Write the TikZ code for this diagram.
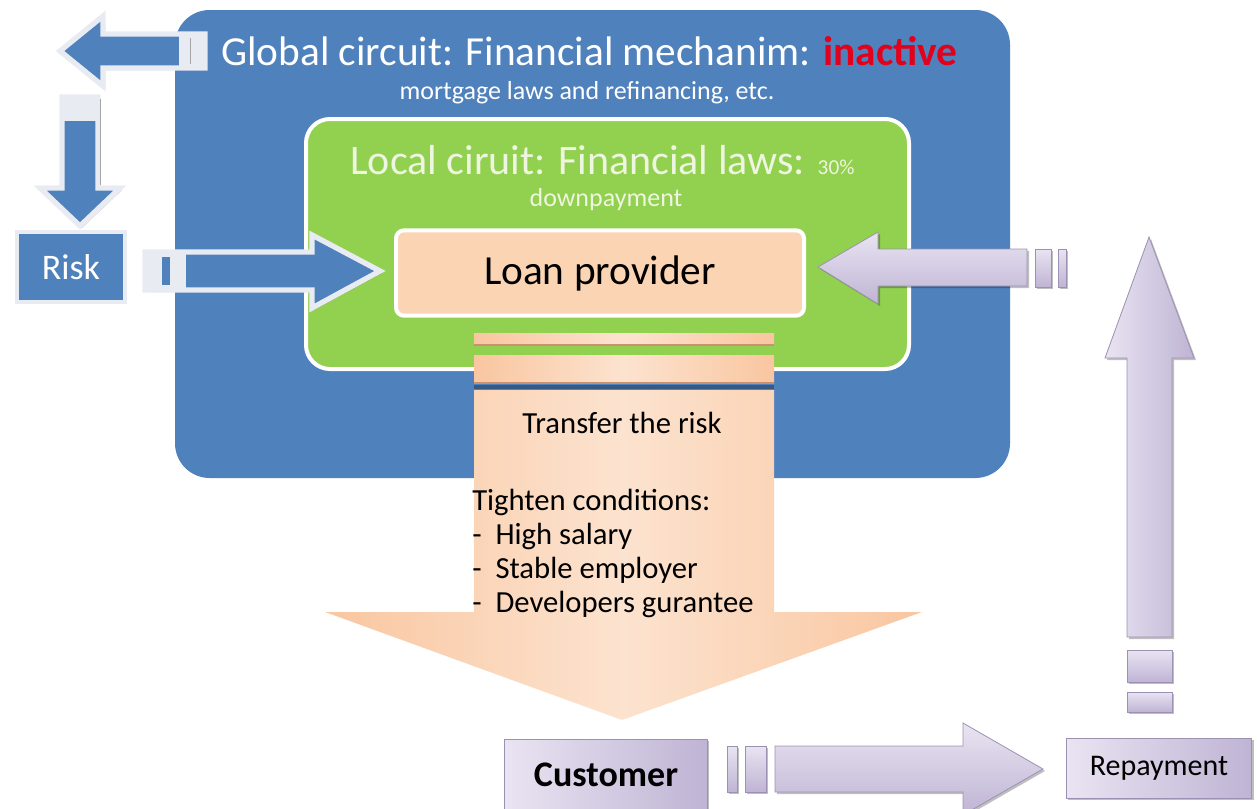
\documentclass[tikz,border=0pt]{standalone}
\usepackage{fontspec}
\setmainfont{Carlito}
\usetikzlibrary{positioning}

\definecolor{officeblue}{HTML}{4F81BD}
\definecolor{lawgreen}{HTML}{92D050}
\definecolor{greentext}{HTML}{EEF5E0}
\definecolor{inactred}{HTML}{E3001B}
\definecolor{peach}{HTML}{FBD4B4}
\definecolor{peachdark}{HTML}{F9C6A0}
\definecolor{peachlight}{HTML}{FCE3CF}
\definecolor{peachedge}{HTML}{C99170}
\definecolor{lavlight}{HTML}{E9E4F2}
\definecolor{lavdark}{HTML}{BFB4D4}
\definecolor{lavedge}{HTML}{9C91B2}
\definecolor{tailgray}{HTML}{E8ECF2}

\tikzset{
  softshadow/.style={preaction={fill=black, opacity=0.25, transform canvas={xshift=1.5pt, yshift=-1.5pt}}},
  bluearrow/.style={fill=officeblue, draw=tailgray, line width=4pt, line join=miter, softshadow},
  lavarrow/.style={shading=axis, top color=lavlight, bottom color=lavdark, draw=lavedge, line width=0.6pt, softshadow},
  lavbox/.style={shading=axis, left color=lavlight, right color=lavdark, draw=lavedge, line width=0.6pt, softshadow, inner sep=0},
  peacharrow/.style={shading=axis, left color=peachdark, right color=peachdark, middle color=peachlight, draw=none},
  boxfont/.style={font=\fontsize{#1}{#1}\selectfont}
}

\begin{document}
\begin{tikzpicture}[x=0.75pt,y=0.75pt,yscale=-1,xscale=1]
\useasboundingbox (0,0) rectangle (1257,808);

%Rounded Rect: global circuit
\draw[fill=officeblue, draw=none, rounded corners=26pt] (175,10) rectangle (1010,478);
\node[anchor=base west, text=white, boxfont=31, inner sep=0] (glob) at (221,65) {Global circuit: Financial mechanim: {\color{inactred}\bfseries inactive}};
\node[anchor=base, text=white, boxfont=19.5, inner sep=0] (globsub) at (587,99) {mortgage laws and refinancing, etc.};

%Rounded Rect: local circuit
\draw[fill=lawgreen, draw=white, line width=3pt, rounded corners=18pt] (306,119) rectangle (909,369);
\node[anchor=base west, text=greentext, boxfont=31.5, inner sep=0] (loc) at (350,174) {Local ciruit: Financial laws: {\fontsize{16}{19}\selectfont 30\%}};
\node[anchor=base, text=greentext, boxfont=19.5, inner sep=0] (locsub) at (606,206) {downpayment};

%Rounded Rect: loan provider
\node[fill=peach, draw=white, line width=3pt, rounded corners=6pt, minimum width=306pt, minimum height=64pt, boxfont=31] (loan) at (600,273) {Loan provider};

%Shape: Down Arrow (transfer the risk)
\draw[peacharrow] (474,390) -- (774,390) -- (774,612) -- (922,612) -- (622,720) -- (325,612) -- (474,612) -- cycle;
\draw[peacharrow] (474,333) rectangle (774,345);
\draw[peacharrow] (474,355) rectangle (774,383);
\draw[peachedge, line width=1.5pt] (474,345) -- (774,345);
\draw[peachedge, line width=1.5pt] (474,383) -- (774,383);
\draw[officeblue!70!black, line width=3pt] (474,387) -- (774,387);
\node[boxfont=23, inner sep=0] (transfer) at (622,423) {Transfer the risk};
\node[anchor=north west, align=left, font=\fontsize{23}{25.5}\selectfont, inner sep=0] (cond) at (472,489) {Tighten conditions:\\- \ High salary\\- \ Stable employer\\- \ Developers gurantee};

%Shape: Risk box
\node[fill=officeblue, draw=tailgray, line width=3pt, minimum width=81pt, minimum height=52pt, text=white, boxfont=27, softshadow] (risk) at (71,267) {Risk};

%Shape: Left Arrow (global to outside)
\draw[bluearrow] (205,34) -- (103,34) -- (103,16) -- (60,51) -- (103,86) -- (103,68) -- (205,68) -- cycle;
\fill[tailgray] (179,36) rectangle (204,66);
\draw[black!35, line width=0.6pt] (190,38) -- (190,64);

%Shape: Down Arrow (to risk)
\draw[bluearrow] (62,97) -- (98,97) -- (98,188) -- (120,188) -- (80,226) -- (40,188) -- (62,188) -- cycle;
\fill[tailgray] (64,99) rectangle (96,121);
\draw[black!35, line width=0.6pt] (100,99) -- (100,185);

%Shape: Right Arrow (risk to loan provider)
\draw[bluearrow] (145,252) -- (312,252) -- (312,235) -- (380,271) -- (312,308) -- (312,290) -- (145,290) -- cycle;
\fill[tailgray] (147,254) rectangle (186,288);
\fill[officeblue] (162,257) rectangle (170,285);

%Shape: Left Arrow (repayment to loan provider)
\draw[lavarrow] (1027,249) -- (878,249) -- (878,232) -- (818,267) -- (878,304) -- (878,286) -- (1027,286) -- cycle;
\draw[lavarrow] (1035,249) rectangle (1051,287);
\draw[lavarrow] (1058,249) rectangle (1066,287);

%Shape: Up Arrow (repayment)
\draw[lavarrow, left color=lavlight, right color=lavdark] (1127,637) -- (1127,358) -- (1105,358) -- (1149,237) -- (1194,358) -- (1172,358) -- (1172,637) -- cycle;
\draw[lavarrow] (1127,650) rectangle (1172,682);
\draw[lavarrow] (1127,692) rectangle (1172,712);

%Shape: Customer and Repayment boxes
\node[lavbox, minimum width=152pt, minimum height=54pt, font=\fontsize{27}{27}\selectfont\bfseries] (cust) at (606,775) {Customer};
\node[lavbox, minimum width=139pt, minimum height=45pt, boxfont=22.5] (repay) at (1159,768) {Repayment};

%Shape: Right Arrow (customer to repayment)
\draw[lavarrow] (727,746) rectangle (737,792);
\draw[lavarrow] (745,746) rectangle (766,792);
\draw[lavarrow] (775,746) -- (963,746) -- (963,723) -- (1043,769) -- (963,815) -- (963,792) -- (775,792) -- cycle;

\end{tikzpicture}
\end{document}
